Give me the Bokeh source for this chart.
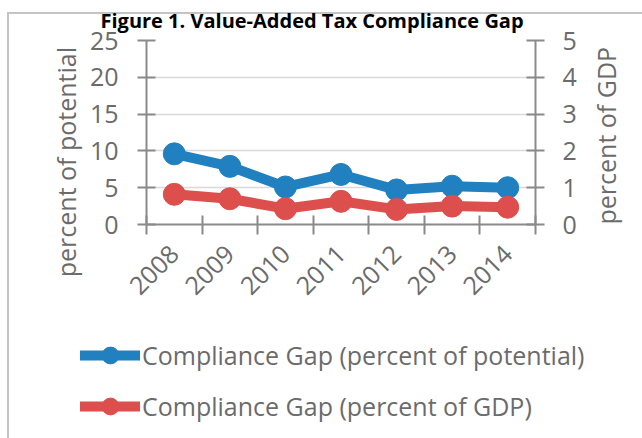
import math
from bokeh.plotting import figure
from bokeh.layouts import column
from bokeh.models import (FactorRange, Range1d, LinearAxis, CategoricalAxis, FixedTicker,
                          Legend, LegendItem, Grid, Title)
from bokeh.embed import file_html
from bokeh.resources import INLINE

# ---- data ----
years = ["2008", "2009", "2010", "2011", "2012", "2013", "2014"]
gap_potential = [9.6, 7.9, 5.1, 6.8, 4.7, 5.2, 5.0]
gap_gdp = [0.82, 0.70, 0.43, 0.63, 0.41, 0.50, 0.47]
left_ticks = [0, 5, 10, 15, 20, 25]
right_ticks = [0, 1, 2, 3, 4, 5]
title_text = "Figure 1. Value-Added Tax Compliance Gap"
left_title = "percent of potential"
right_title = "percent of GDP"
series_names = ["Compliance Gap (percent of potential)", "Compliance Gap (percent of GDP)"]

BLUE = "#2180C0"
RED = "#DC4F4D"
TEXT = "#6b6b6b"
AXIS = "#8a8a8a"
GRID = "#d9d9d9"
FONT = "Open Sans"
FS = "25px"
NBSP = "\u00a0"

H1 = 325
p = figure(width=642, height=H1, output_backend="svg", toolbar_location=None,
           x_range=FactorRange(*years), y_range=Range1d(left_ticks[0], left_ticks[-1]),
           x_axis_location=None, y_axis_location=None,
           min_border_left=146, min_border_right=97, min_border_top=40,
           min_border_bottom=H1 - 224)
p.extra_y_ranges = {"gdp": Range1d(right_ticks[0], right_ticks[-1])}
p.outline_line_color = None
p.background_fill_color = None
p.border_fill_color = None
for g in list(p.grid):
    g.visible = False

p.title = Title(text=title_text, align="left", offset=-46, standoff=10, vertical_align="top",
                text_font=FONT, text_font_size="20px", text_font_style="bold", text_color="black")

grid = Grid(dimension=1, ticker=FixedTicker(ticks=left_ticks),
            grid_line_color=GRID, grid_line_width=1.5)
p.add_layout(grid)


def style(ax):
    ax.axis_line_color = AXIS
    ax.axis_line_width = 2
    ax.major_tick_line_color = AXIS
    ax.major_tick_line_width = 2
    ax.minor_tick_line_color = None
    ax.major_label_text_font = FONT
    ax.major_label_text_font_size = FS
    ax.major_label_text_color = TEXT
    ax.axis_label_text_font = FONT
    ax.axis_label_text_font_size = FS
    ax.axis_label_text_font_style = "normal"
    ax.axis_label_text_color = TEXT


yl = LinearAxis(ticker=FixedTicker(ticks=left_ticks), major_tick_in=9, major_tick_out=9,
                major_label_standoff=19, axis_label=left_title + NBSP,
                axis_label_standoff=21)
style(yl)
yl.axis_label_orientation = math.pi / 2
yl.axis_label_align = "end"
p.add_layout(yl, "left")

yr = LinearAxis(y_range_name="gdp", ticker=FixedTicker(ticks=right_ticks), major_tick_in=9,
                major_tick_out=9, major_label_standoff=18, axis_label=right_title,
                axis_label_standoff=26)
style(yr)
yr.axis_label_orientation = math.pi / 2
yr.axis_label_align = "start"
p.add_layout(yr, "right")

# boundary ticks between the year categories (synthetic positions 0..n)
xb = LinearAxis(ticker=FixedTicker(ticks=list(range(len(years) + 1))),
                major_tick_in=9, major_tick_out=10, major_label_standoff=0)
style(xb)
xb.major_label_text_font_size = "1px"
xb.major_label_text_color = None
p.add_layout(xb, "below")

xc = CategoricalAxis(major_label_orientation=math.pi / 4, major_tick_in=0, major_tick_out=0,
                     major_label_standoff=15)
style(xc)
xc.axis_line_color = None
xc.major_tick_line_color = None
p.add_layout(xc, "below")

l1 = dict(line_color=BLUE, line_width=10, line_join="round", line_cap="round")
m1 = dict(size=22, fill_color=BLUE, line_color=BLUE)
l2 = dict(line_color=RED, line_width=10, line_join="round", line_cap="round")
m2 = dict(size=22, fill_color=RED, line_color=RED)
p.line(years, gap_potential, **l1)
p.scatter(years, gap_potential, **m1)
p.line(years, gap_gdp, y_range_name="gdp", **l2)
p.scatter(years, gap_gdp, y_range_name="gdp", **m2)

# ---- legend strip below the chart (series drawn out of view; only the key shows) ----
H2 = 438 - H1
q = figure(width=642, height=H2, output_backend="svg", toolbar_location=None,
           x_range=FactorRange(*years), y_range=Range1d(-200, -100),
           x_axis_location=None, y_axis_location=None,
           min_border_left=0, min_border_right=0, min_border_top=0, min_border_bottom=0)
q.outline_line_color = None
q.background_fill_color = None
q.border_fill_color = None
for g in list(q.grid):
    g.visible = False
for fig in (p, q):
    fig.frame_align = False

r1 = q.line(years, gap_potential, **l1)
r1s = q.scatter(years, gap_potential, **m1)
r2 = q.line(years, gap_gdp, **l2)
r2s = q.scatter(years, gap_gdp, **m2)

legend = Legend(items=[LegendItem(label=series_names[0], renderers=[r1, r1s]),
                       LegendItem(label=series_names[1], renderers=[r2, r2s])],
                location=(80, 11), glyph_width=60, glyph_height=42, spacing=9,
                padding=0, margin=0, label_standoff=2, border_line_color=None,
                background_fill_alpha=0, label_text_font=FONT, label_text_font_size=FS,
                label_text_color=TEXT, label_text_baseline="middle")
q.add_layout(legend)

root = column(p, q, spacing=0)
# light grey chart-area frame (left and top edges) drawn behind the transparent canvases
root.styles = {
    "background-image": "linear-gradient(#c4c4c4, #c4c4c4), linear-gradient(#c4c4c4, #c4c4c4)",
    "background-position": "7px 12px, 7px 12px",
    "background-size": "2px 100%, 100% 2px",
    "background-repeat": "no-repeat",
    "background-color": "white",
}

open("out.html", "w").write(file_html(root, INLINE))
